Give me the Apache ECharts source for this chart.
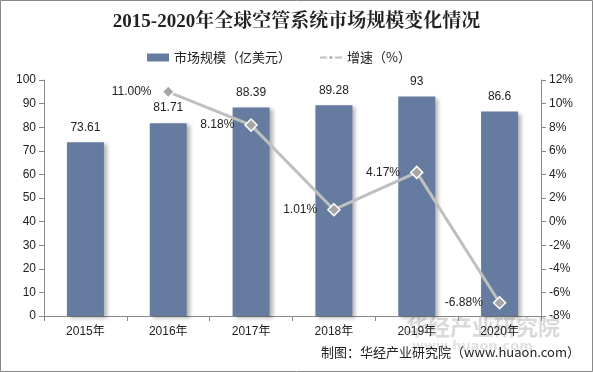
<!DOCTYPE html>
<html><head><meta charset="utf-8">
<script src="https://cdn.jsdelivr.net/npm/echarts@6/dist/echarts.min.js"></script>
<style>html,body{margin:0;padding:0;background:#fff}#c{width:593px;height:372px}</style>
</head><body><div id="c"></div>
<script>
const categories = ['2015年','2016年','2017年','2018年','2019年','2020年'];
const marketSize = [73.61, 81.71, 88.39, 89.28, 93, 86.6];
const growth = [null, 11.00, 8.18, 1.01, 4.17, -6.88];
const leftTicks = {min: 0, max: 100, interval: 10};
const rightTicks = {min: -8, max: 12, interval: 2};

const chart = echarts.init(document.getElementById('c'));
const axisFont = {fontFamily: 'Liberation Sans, Arial, sans-serif', fontSize: 12, color: '#222'};
chart.setOption({
  animation: false,
  graphic: [
    {type: 'rect', shape: {x: 0.5, y: 0.5, width: 592, height: 371}, style: {fill: 'none', stroke: '#888', lineWidth: 1}},
    {type: 'text', left: 406, top: 316, style: {text: '华经产业研究院', font: 'bold 22px "Noto Sans CJK SC"', fill: 'rgba(170,170,170,0.45)'}},
    {type: 'text', left: 412, top: 340, style: {text: 'www.huaon.com', font: 'bold 13px "DejaVu Sans"', fill: 'rgba(170,170,170,0.35)'}},
    {type: 'text', right: 13, top: 346, style: {text: '制图：华经产业研究院（www.huaon.com）', font: '13px "Noto Sans CJK SC"', fill: '#222'}}
  ],
  title: {
    text: '2015-2020年全球空管系统市场规模变化情况',
    left: 'center', top: 8,
    textStyle: {fontFamily: '"Liberation Serif", "Noto Serif CJK SC", serif', fontSize: 19, fontWeight: 'bold', color: '#222'}
  },
  legend: {
    top: 46, left: 142, itemGap: 28,
    textStyle: {fontFamily: '"Noto Sans CJK SC", sans-serif', fontSize: 13, color: '#222'},
    data: [
      {name: '市场规模（亿美元）', icon: 'rect', itemStyle: {color: '#667BA0'}},
      {name: '增速（%）'}
    ],
    itemWidth: 22, itemHeight: 8
  },
  grid: {left: 44, right: 52, top: 80, bottom: 56},
  xAxis: {
    type: 'category', data: categories,
    axisLine: {lineStyle: {color: '#888'}},
    axisTick: {show: true, alignWithLabel: false, lineStyle: {color: '#888'}},
    axisLabel: Object.assign({margin: 10}, axisFont, {fontFamily: '"Liberation Sans", "Noto Sans CJK SC", sans-serif'})
  },
  yAxis: [
    {type: 'value', min: leftTicks.min, max: leftTicks.max, interval: leftTicks.interval,
     axisLine: {show: true, lineStyle: {color: '#888'}}, axisTick: {show: true, lineStyle: {color: '#888'}},
     splitLine: {show: false}, axisLabel: Object.assign({margin: 8}, axisFont)},
    {type: 'value', min: rightTicks.min, max: rightTicks.max, interval: rightTicks.interval, position: 'right',
     axisLine: {show: true, lineStyle: {color: '#888'}}, axisTick: {show: true, lineStyle: {color: '#888'}},
     splitLine: {show: false}, axisLabel: Object.assign({margin: 8, formatter: '{value}%'}, axisFont)}
  ],
  series: [
    {name: '市场规模（亿美元）', type: 'bar', data: marketSize, barWidth: 37,
     itemStyle: {color: '#667BA0', shadowColor: 'rgba(0,0,0,0.3)', shadowBlur: 4, shadowOffsetX: 3, shadowOffsetY: 2},
     label: {show: true, position: 'top', distance: 9, fontFamily: 'Liberation Sans, Arial, sans-serif', fontSize: 12, color: '#222'}},
    {name: '增速（%）', type: 'line', yAxisIndex: 1, data: growth,
     lineStyle: {color: '#BFBFBF', width: 3},
     symbol: 'diamond', symbolSize: 12,
     itemStyle: {color: '#A6A6A6', borderColor: '#fff', borderWidth: 1.5},
     label: {show: true, position: 'left', distance: 10, fontFamily: 'Liberation Sans, Arial, sans-serif', fontSize: 12, color: '#222',
       formatter: p => p.value.toFixed(2) + '%'}}
  ]
});
</script></body></html>
